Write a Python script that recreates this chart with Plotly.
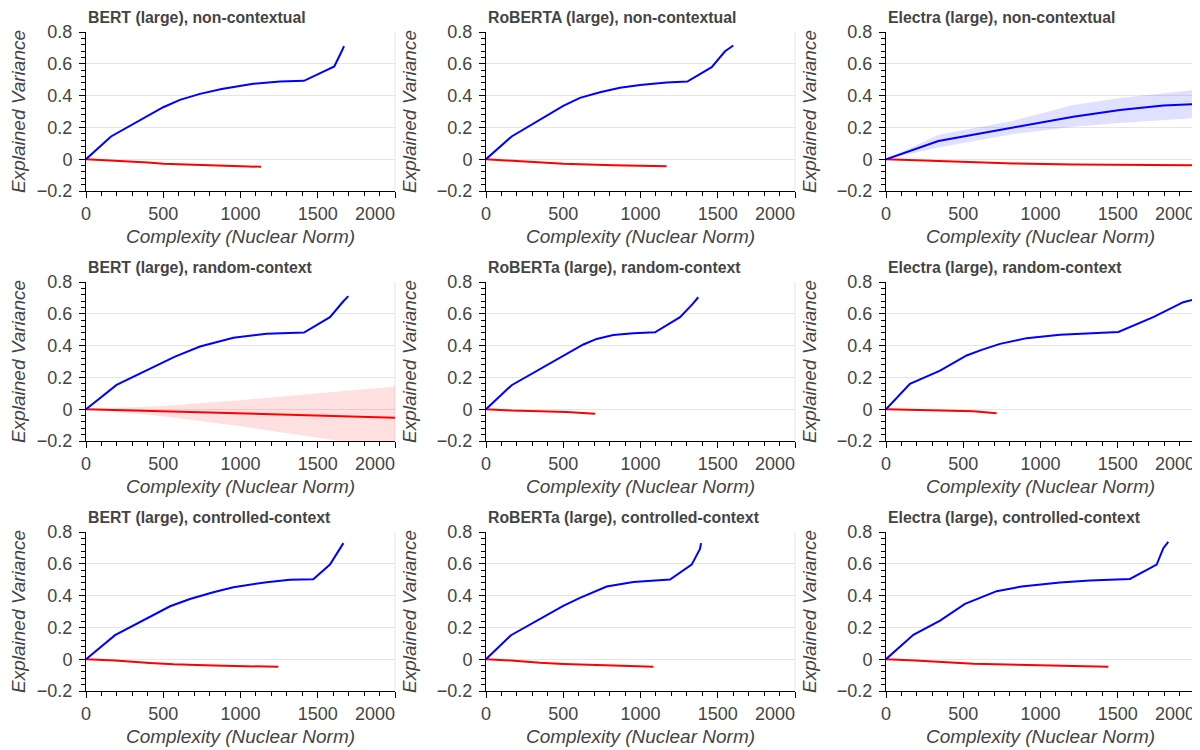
import plotly.graph_objects as go

# ---------------- text ----------------
panel_titles = [
    "BERT (large), non-contextual", "RoBERTA (large), non-contextual", "Electra (large), non-contextual",
    "BERT (large), random-context", "RoBERTa (large), random-context", "Electra (large), random-context",
    "BERT (large), controlled-context", "RoBERTa (large), controlled-context", "Electra (large), controlled-context",
]
x_axis_title = "Complexity (Nuclear Norm)"
y_axis_title = "Explained Variance"
x_tick_vals = [0, 500, 1000, 1500, 2000]
# the last label sits flush with the axis end, as in the reference
x_tick_text = ["0", "500", "1000", "1500", "2000\u2007\u2007\u2007\u2007"]
y_tick_vals = [-0.2, 0, 0.2, 0.4, 0.6, 0.8]
y_tick_text = ["\u22120.2", "0", "0.2", "0.4", "0.6", "0.8"]

# ---------------- data ----------------
# BERT non-contextual
bert_nc_blue_x = [0, 162, 500, 608, 738, 878, 1083, 1256, 1411, 1607, 1655, 1670]
bert_nc_blue_y = [0, 0.143, 0.327, 0.373, 0.411, 0.442, 0.474, 0.488, 0.493, 0.583, 0.679, 0.711]
bert_nc_red_x = [0, 200, 400, 500, 760, 1133]
bert_nc_red_y = [0, -0.009, -0.021, -0.028, -0.038, -0.048]

# RoBERTa non-contextual
roberta_nc_blue_x = [0, 166, 500, 608, 738, 867, 997, 1169, 1303, 1461, 1547, 1601]
roberta_nc_blue_y = [0, 0.143, 0.335, 0.386, 0.421, 0.449, 0.467, 0.482, 0.488, 0.579, 0.679, 0.715]
roberta_nc_red_x = [0, 166, 350, 500, 824, 1169]
roberta_nc_red_y = [0, -0.011, -0.023, -0.029, -0.038, -0.044]

# Electra non-contextual (with band on blue)
electra_nc_blue_x = [0, 339, 824, 1212, 1514, 1795, 2000, 2100]
electra_nc_blue_y = [0, 0.114, 0.200, 0.267, 0.309, 0.337, 0.347, 0.351]
electra_nc_blue_upper = [0, 0.154, 0.242, 0.341, 0.385, 0.417, 0.436, 0.445]
electra_nc_blue_lower = [0, 0.074, 0.158, 0.204, 0.228, 0.246, 0.259, 0.262]
electra_nc_red_x = [0, 339, 824, 1212, 1795, 2000, 2100]
electra_nc_red_y = [0, -0.011, -0.027, -0.033, -0.037, -0.038, -0.038]

# BERT random-context (with band on red)
bert_rc_blue_x = [0, 198, 576, 738, 954, 1169, 1411, 1579, 1666, 1698]
bert_rc_blue_y = [0, 0.153, 0.331, 0.394, 0.449, 0.474, 0.482, 0.579, 0.679, 0.711]
bert_rc_red_x = [0, 500, 1000, 1500, 2000, 2100]
bert_rc_red_y = [0, -0.013, -0.027, -0.040, -0.053, -0.056]
bert_rc_red_upper = [0, 0.020, 0.057, 0.100, 0.143, 0.152]
bert_rc_red_lower = [0, -0.045, -0.108, -0.180, -0.250, -0.265]

# RoBERTa random-context
roberta_rc_blue_x = [0, 166, 630, 716, 824, 954, 1094, 1256, 1338, 1374]
roberta_rc_blue_y = [0, 0.151, 0.407, 0.442, 0.467, 0.478, 0.484, 0.579, 0.662, 0.704]
roberta_rc_red_x = [0, 166, 522, 673, 706]
roberta_rc_red_y = [0, -0.008, -0.017, -0.023, -0.029]

# Electra random-context
electra_rc_blue_x = [0, 155, 350, 522, 619, 738, 910, 1126, 1504, 1730, 1924, 2000]
electra_rc_blue_y = [0, 0.159, 0.243, 0.338, 0.373, 0.411, 0.447, 0.468, 0.486, 0.579, 0.673, 0.692]
electra_rc_red_x = [0, 350, 565, 716]
electra_rc_red_y = [0, -0.008, -0.013, -0.025]

# BERT controlled-context
bert_cc_blue_x = [0, 188, 544, 673, 824, 954, 1169, 1320, 1471, 1579, 1666]
bert_cc_blue_y = [0, 0.151, 0.333, 0.379, 0.421, 0.453, 0.484, 0.499, 0.503, 0.595, 0.730]
bert_cc_red_x = [0, 188, 414, 565, 824, 1245]
bert_cc_red_y = [0, -0.008, -0.024, -0.032, -0.040, -0.048]

# RoBERTa controlled-context
roberta_cc_blue_x = [0, 162, 500, 608, 781, 954, 1191, 1331, 1385, 1392]
roberta_cc_blue_y = [0, 0.151, 0.335, 0.386, 0.457, 0.486, 0.501, 0.595, 0.694, 0.730]
roberta_cc_red_x = [0, 162, 350, 500, 824, 1083]
roberta_cc_red_y = [0, -0.008, -0.023, -0.030, -0.040, -0.048]

# Electra controlled-context
electra_cc_blue_x = [0, 177, 350, 511, 608, 716, 878, 1126, 1320, 1579, 1752, 1795, 1827]
electra_cc_blue_y = [0, 0.153, 0.243, 0.348, 0.386, 0.428, 0.457, 0.482, 0.495, 0.505, 0.595, 0.698, 0.738]
electra_cc_red_x = [0, 188, 565, 954, 1439]
electra_cc_red_y = [0, -0.008, -0.029, -0.038, -0.048]

blue_series = [
    (bert_nc_blue_x, bert_nc_blue_y), (roberta_nc_blue_x, roberta_nc_blue_y), (electra_nc_blue_x, electra_nc_blue_y),
    (bert_rc_blue_x, bert_rc_blue_y), (roberta_rc_blue_x, roberta_rc_blue_y), (electra_rc_blue_x, electra_rc_blue_y),
    (bert_cc_blue_x, bert_cc_blue_y), (roberta_cc_blue_x, roberta_cc_blue_y), (electra_cc_blue_x, electra_cc_blue_y),
]
red_series = [
    (bert_nc_red_x, bert_nc_red_y), (roberta_nc_red_x, roberta_nc_red_y), (electra_nc_red_x, electra_nc_red_y),
    (bert_rc_red_x, bert_rc_red_y), (roberta_rc_red_x, roberta_rc_red_y), (electra_rc_red_x, electra_rc_red_y),
    (bert_cc_red_x, bert_cc_red_y), (roberta_cc_red_x, roberta_cc_red_y), (electra_cc_red_x, electra_cc_red_y),
]
# bands: (panel index, x, upper, lower, fill colour)
bands = [
    (2, electra_nc_blue_x, electra_nc_blue_upper, electra_nc_blue_lower, "rgba(0,0,255,0.12)"),
    (3, bert_rc_red_x, bert_rc_red_upper, bert_rc_red_lower, "rgba(255,0,0,0.12)"),
]

# ---------------- figure ----------------
OFF = 8                      # page body margin of the browser
W, H = 1200 - OFF, 750 - OFF
FONT = "Liberation Sans, Arial, Helvetica, sans-serif"
TXT = "#444444"


def px_x(p):
    return (p - OFF) / W


def px_y(p):
    return 1 - (p - OFF) / H


fig = go.Figure()


def axis_suffix(i):
    return "" if i == 0 else str(i + 1)


for (pi, bx, bu, bl, col) in bands:
    s = axis_suffix(pi)
    fig.add_trace(go.Scatter(
        x=list(bx) + list(bx)[::-1], y=list(bu) + list(bl)[::-1],
        fill="toself", fillcolor=col, line=dict(width=0), mode="lines",
        xaxis="x" + s, yaxis="y" + s, showlegend=False, hoverinfo="skip"))

for i in range(9):
    s = axis_suffix(i)
    rx, ry = red_series[i]
    bx, by = blue_series[i]
    fig.add_trace(go.Scatter(x=rx, y=ry, mode="lines", line=dict(color="#ff0000", width=2),
                             xaxis="x" + s, yaxis="y" + s, showlegend=False))
    fig.add_trace(go.Scatter(x=bx, y=by, mode="lines", line=dict(color="#0000ff", width=2),
                             xaxis="x" + s, yaxis="y" + s, showlegend=False))

layout = dict(
    width=W, height=H,
    margin=dict(l=0, r=0, t=0, b=0, autoexpand=False),
    paper_bgcolor="white", plot_bgcolor="white",
    font=dict(family=FONT, color=TXT),
    showlegend=False,
    annotations=[], shapes=[],
)

for i in range(9):
    r, c = divmod(i, 3)
    s = axis_suffix(i)
    x0 = px_x(86 + 400 * c)
    x1 = min(px_x(395 + 400 * c), 1.0)
    ytop = px_y(32 + 250 * r)
    ybot = px_y(191 + 250 * r)
    layout["xaxis" + s] = dict(
        domain=[x0, x1], anchor="y" + s, range=[0, 2000], automargin=False,
        showline=True, linecolor="black", linewidth=1,
        ticks="outside", ticklen=6, tickcolor="black", tickwidth=1,
        tickvals=x_tick_vals, ticktext=x_tick_text, ticklabeloverflow="allow",
        tickfont=dict(size=18, color=TXT, family=FONT),
        minor=dict(ticks="outside", ticklen=4, tickcolor="black", dtick=100, tick0=0, showgrid=False),
        showgrid=False, zeroline=False,
        title=dict(text=x_axis_title, standoff=7,
                   font=dict(size=19, color=TXT, family=FONT, style="italic")),
        fixedrange=True,
    )
    layout["yaxis" + s] = dict(
        domain=[ybot, ytop], anchor="x" + s, range=[-0.2, 0.8], automargin=False,
        showline=True, linecolor="black", linewidth=1,
        ticks="outside", ticklen=6, tickcolor="black", tickwidth=1,
        tickvals=y_tick_vals, ticktext=y_tick_text, ticklabelstandoff=3,
        tickfont=dict(size=18, color=TXT, family=FONT),
        minor=dict(ticks="outside", ticklen=4, tickcolor="black", dtick=0.04, tick0=0, showgrid=False),
        showgrid=True, gridcolor="#e5e5e5", gridwidth=1, zeroline=False,
        title=dict(text=y_axis_title, standoff=15,
                   font=dict(size=19, color=TXT, family=FONT, style="italic")),
        fixedrange=True,
    )
    # light outline on the right side of the frame
    layout["shapes"].append(dict(
        type="line", xref="x" + s + " domain", yref="y" + s + " domain",
        x0=1, x1=1, y0=0, y1=1, line=dict(color="#e5e5e5", width=1), layer="below"))
    layout["annotations"].append(dict(
        text=panel_titles[i], xref="paper", yref="paper",
        x=x0, y=px_y(17 + 250 * r), xanchor="left", yanchor="middle",
        showarrow=False, font=dict(size=15.8, color=TXT, family=FONT, weight="bold")))

fig.update_layout(**layout)
fig.write_html("out.html")
